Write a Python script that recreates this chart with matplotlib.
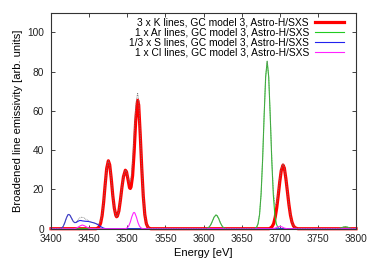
import matplotlib
matplotlib.use("Agg")
import matplotlib.pyplot as plt
import numpy as np

plt.rcParams['font.family'] = ['Liberation Sans', 'DejaVu Sans']

# broadened profiles (energy in eV, emissivity in arb. units)
k_energy = [3400, 3459, 3461, 3463, 3465, 3467, 3469, 3471, 3473, 3475.2, 3477, 3479, 3481,
            3483, 3485, 3486, 3487, 3489, 3491, 3493, 3495, 3497.5, 3499, 3501, 3503, 3504,
            3505, 3507, 3509, 3511, 3512.5, 3513.6, 3515, 3517, 3519, 3521, 3523, 3525, 3527,
            3529, 3531, 3686, 3688, 3690, 3692, 3694, 3696, 3698, 3700, 3702, 3704.3, 3706,
            3708, 3710, 3712, 3714, 3716, 3718, 3720, 3722, 3724, 3800]
k_value = [0, 0, 0.24, 0.9, 2.7, 6.6, 13.4, 22.4, 30.7, 34.6, 32.5, 25.5, 17,
           10.5, 6.8, 6.1, 6.4, 9, 14.5, 21, 26.5, 29.8, 29, 25, 20.8, 20.5,
           21.3, 27, 39, 54.5, 61.5, 65.4, 63, 48, 31, 16.6, 7.2, 2.6, 0.8,
           0.2, 0, 0, 0.42, 1.1, 2.6, 5.8, 10.6, 16.9, 23.9, 29.7, 32.4, 30.9,
           25.6, 19, 12.3, 6.9, 3.4, 1.4, 0.55, 0.2, 0, 0]

ar_energy = [3400, 3602, 3604, 3606, 3608, 3610, 3612, 3614, 3616.4, 3618, 3620, 3622, 3624,
             3626, 3628, 3630, 3632, 3665.5, 3667.5, 3669.5, 3671.5, 3673.5, 3675.5, 3677.5,
             3679.5, 3681.5, 3683.5, 3685.5, 3687.5, 3689.5, 3691.5, 3693.5, 3695.5, 3697.5,
             3699.5, 3701.5, 3776, 3780, 3783, 3786, 3789, 3792, 3796, 3800]
ar_value = [0, 0, 0.13, 0.43, 1.14, 2.4, 4.2, 6.0, 7.0, 6.55, 5.1, 3.1, 1.6,
            0.64, 0.21, 0.05, 0, 0.03, 0.15, 0.68, 2.46, 7.25, 17.6, 35.1,
            57.5, 77.3, 85.3, 77.3, 57.5, 35.1, 17.6, 7.25, 2.46, 0.68,
            0.15, 0.03, 0, 0.3, 0.8, 1.0, 0.8, 0.3, 0, 0]

s_energy = [3400, 3410, 3414, 3416, 3418, 3420, 3422, 3423.5, 3425, 3427, 3429, 3431, 3433,
            3435, 3437, 3439, 3441, 3443, 3445, 3447, 3449, 3453, 3457, 3461, 3465, 3469,
            3472, 3800]
s_value = [0, 0, 0.3, 1.2, 3, 5.3, 7, 7.3, 6.8, 5.3, 3.8, 3.1, 3.2,
           3.7, 4.1, 4.2, 4.0, 3.9, 3.8, 3.75, 3.7, 3.3, 2.9, 2.2, 1.1, 0.3,
           0, 0]

cl_energy = [3400, 3430, 3433, 3436, 3438, 3441, 3444, 3446, 3449, 3452, 3455, 3496, 3498,
             3500, 3502, 3504, 3506, 3508, 3509, 3510, 3512, 3514, 3516, 3518, 3520, 3522,
             3690, 3694, 3697, 3700, 3703, 3706, 3710, 3800]
cl_value = [0, 0, 0.3, 0.9, 1.4, 1.9, 1.5, 1.0, 0.4, 0.1, 0, 0, 0.1,
            0.46, 1.46, 3.4, 6.1, 8.05, 8.3, 7.95, 5.9, 3.2, 1.3, 0.4, 0.09, 0,
            0, 0.3, 0.9, 1.2, 0.9, 0.3, 0, 0]

labels = ["3 x K lines, GC model 3, Astro-H/SXS",
          "1 x Ar lines, GC model 3, Astro-H/SXS",
          "1/3 x S lines, GC model 3, Astro-H/SXS",
          "1 x Cl lines, GC model 3, Astro-H/SXS"]

series = [(k_energy, k_value, '#ff0000', 2.3),
          (ar_energy, ar_value, '#22cc22', 0.8),
          (s_energy, s_value, '#2222ee', 0.8),
          (cl_energy, cl_value, '#ff22ff', 0.8)]

fig = plt.figure(figsize=(3.74, 2.62), dpi=100)
ax = fig.add_axes([0.1364, 0.127, 0.8155, 0.8245])

for (e, v, c, lw), lab in zip(series, labels):
    ax.plot(e, v, color=c, lw=lw, label=lab, clip_on=False)

# sum of all curves, drawn as thin grey dots on top
grid = np.unique(np.concatenate([k_energy, ar_energy, s_energy, cl_energy]))
total = sum(np.interp(grid, e, v) for e, v, c, lw in series)
ax.plot(grid, total, color='#777777', lw=0.6, ls=(0, (1, 1)), clip_on=False)

ax.set_xlim(3400, 3800)
ax.set_ylim(0, 110)
ax.set_xticks(range(3400, 3801, 50))
ax.set_yticks(range(0, 101, 20))
ax.tick_params(direction='in', length=3, width=0.6, labelsize=7.3, pad=4,
               top=True, right=True, colors='#222222')
ax.tick_params(axis='y', pad=5)
for s in ax.spines.values():
    s.set_color('#333333')
    s.set_linewidth(0.8)

ax.set_xlabel('Energy [eV]', fontsize=8, labelpad=3)
ax.set_ylabel('Broadened line emissivity [arb. units]', fontsize=8, labelpad=3)

ax.legend(loc='upper right', fontsize=7.4, frameon=False, markerfirst=False,
          handlelength=2.8, handletextpad=0.6, labelspacing=0.02,
          borderaxespad=0.2, borderpad=0.25, bbox_to_anchor=(0.975, 1.0))

fig.savefig('out.png', dpi=100)
